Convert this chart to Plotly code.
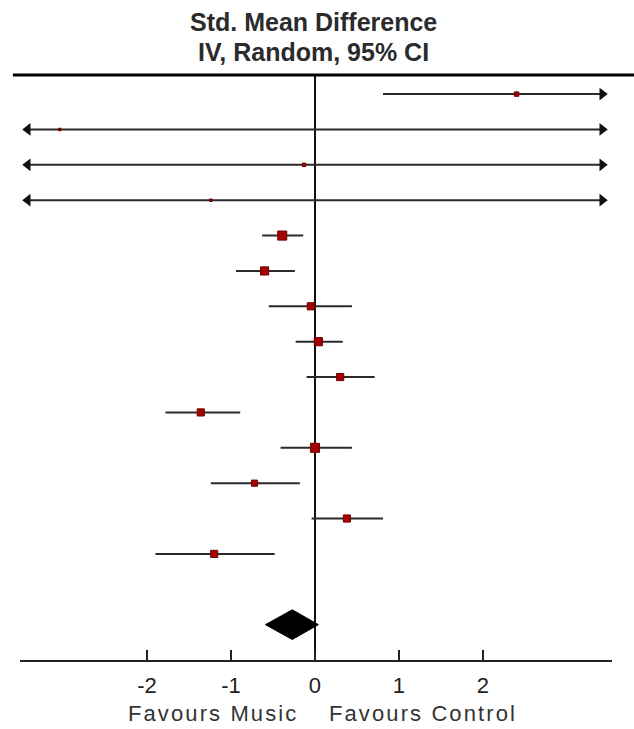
import plotly.graph_objects as go

# ---------------- data ----------------
rows = list(range(1, 15))
smd = [2.40, -3.04, -0.13, -1.24, -0.39, -0.60, -0.05, 0.04, 0.30, -1.36, 0.00, -0.72, 0.38, -1.20]
ci_low = [0.81, -9.90, -4.60, -6.30, -0.63, -0.94, -0.55, -0.23, -0.10, -1.78, -0.41, -1.24, -0.04, -1.90]
ci_high = [3.99, 3.80, 4.30, 3.90, -0.14, -0.24, 0.44, 0.33, 0.71, -0.89, 0.44, -0.18, 0.81, -0.48]
weights = [2.5, 0.8, 1.5, 0.8, 10.5, 8.5, 6.5, 8.5, 6.5, 6.5, 10.5, 4.8, 6.5, 6.5]
pooled_est, pooled_low, pooled_high = -0.27, -0.59, 0.04
pooled_row = 16
tick_vals = [-2, -1, 0, 1, 2]
tick_text = ["-2", "-1", "0", "1", "2"]
title_lines = ["Std. Mean Difference", "IV, Random, 95% CI"]
favours_left = "Favours Music"
favours_right = "Favours Control"

# ---------------- layout constants ----------------
X_MIN, X_MAX = -3.512, 3.536
CLIP = 3.42
FONT = "Liberation Sans, Arial, sans-serif"

fig = go.Figure()

# whiskers (clipped to display range)
wx, wy = [], []
for r, lo, hi in zip(rows, ci_low, ci_high):
    wx += [max(lo, -CLIP), min(hi, CLIP), None]
    wy += [r, r, None]
fig.add_trace(go.Scatter(x=wx, y=wy, mode="lines",
                         line=dict(color="#2a2a2a", width=2),
                         hoverinfo="skip", showlegend=False))

# arrow heads for clipped intervals
rx = [CLIP for hi in ci_high if hi > CLIP]
ry = [r for r, hi in zip(rows, ci_high) if hi > CLIP]
lx = [-CLIP for lo in ci_low if lo < -CLIP]
ly = [r for r, lo in zip(rows, ci_low) if lo < -CLIP]
fig.add_trace(go.Scatter(x=rx, y=ry, mode="markers", cliponaxis=False,
                         marker=dict(symbol="triangle-right", size=11, color="#111"),
                         hoverinfo="skip", showlegend=False))
fig.add_trace(go.Scatter(x=lx, y=ly, mode="markers", cliponaxis=False,
                         marker=dict(symbol="triangle-left", size=11, color="#111"),
                         hoverinfo="skip", showlegend=False))

# point estimates (size by weight)
sizes = [2.8 * w ** 0.5 for w in weights]
fig.add_trace(go.Scatter(x=smd, y=rows, mode="markers",
                         marker=dict(symbol="square", size=sizes, color="#A80000",
                                     opacity=1, line=dict(color="#6A0000", width=1)),
                         showlegend=False))

# pooled diamond
h = 0.42
fig.add_trace(go.Scatter(
    x=[pooled_low, pooled_est, pooled_high, pooled_est, pooled_low],
    y=[pooled_row, pooled_row - h, pooled_row, pooled_row + h, pooled_row],
    mode="lines", fill="toself", fillcolor="#000000",
    line=dict(color="#000000", width=1), showlegend=False))

# top rule
fig.add_shape(type="line", xref="paper", yref="paper", x0=-0.012, x1=1.04, y0=1, y1=1,
              line=dict(color="#000000", width=3))

title_font = dict(family=FONT, size=25, color="#2b2b2b", weight="bold")
fig.add_annotation(text=title_lines[0], xref="paper", yref="paper", x=0.495, y=1.0906,
                   showarrow=False, font=title_font, xanchor="center", yanchor="middle")
fig.add_annotation(text=title_lines[1], xref="paper", yref="paper", x=0.495, y=1.0393,
                   showarrow=False, font=title_font, xanchor="center", yanchor="middle")

fav_font = dict(family=FONT, size=22, color="#333")
fig.add_annotation(text='<span style="letter-spacing:2.1px">' + favours_left + '</span>',
                   xref="x", yref="paper", x=-0.18, y=-0.092,
                   showarrow=False, font=fav_font, xanchor="right", yanchor="middle")
fig.add_annotation(text='<span style="letter-spacing:2.1px">' + favours_right + '</span>',
                   xref="x", yref="paper", x=0.14, y=-0.092,
                   showarrow=False, font=fav_font, xanchor="left", yanchor="middle")

fig.update_layout(
    width=634, height=729,
    margin=dict(l=20, r=22, t=75, b=69),
    paper_bgcolor="white", plot_bgcolor="white",
    xaxis=dict(range=[X_MIN, X_MAX], tickvals=tick_vals, ticktext=tick_text,
               showgrid=False, zeroline=True, zerolinecolor="#111", zerolinewidth=2,
               showline=True, linecolor="#222", linewidth=2,
               ticks="inside", ticklen=10, tickwidth=2, tickcolor="#222",
               ticklabelstandoff=5,
               tickfont=dict(family=FONT, size=22, color="#222")),
    xaxis2=dict(range=[X_MIN, X_MAX], tickvals=tick_vals, overlaying="x", anchor="y",
                side="bottom", showgrid=False, zeroline=False, showline=False,
                showticklabels=False, ticks="outside", ticklen=6, tickwidth=2,
                tickcolor="#222"),
    yaxis=dict(range=[17, 0.46], showgrid=False, zeroline=False, showticklabels=False,
               showline=False, ticks=""),
)

fig.write_html("out.html")
